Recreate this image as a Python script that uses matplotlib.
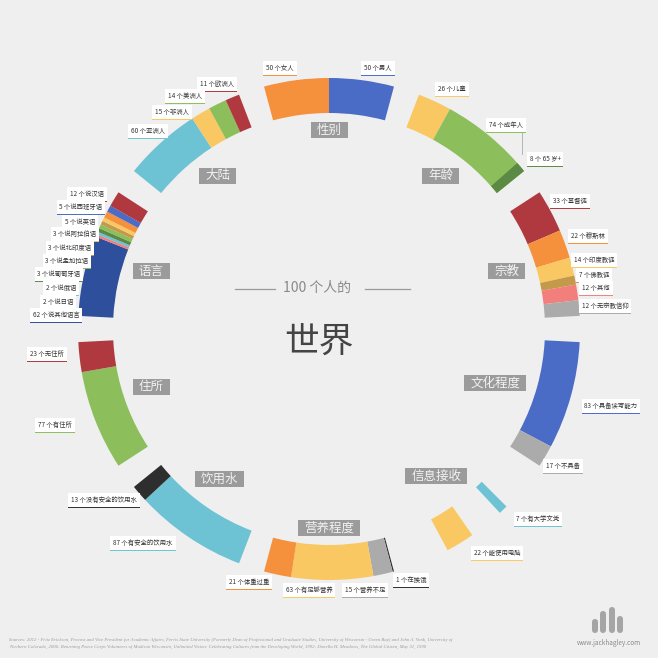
import numpy as np
import matplotlib
matplotlib.use("Agg")
import matplotlib.pyplot as plt
from matplotlib.patches import Wedge, Rectangle, FancyBboxPatch

plt.rcParams['font.family'] = ['Noto Sans CJK SC', 'DejaVu Sans']

# colours
ORANGE = '#f5903d'
BLUE = '#4a6bc6'
YELLOW = '#f9c862'
GREEN = '#8cbf5b'
DKGREEN = '#5b8a45'
RED = '#b0393f'
TAN = '#c39a4a'
PINK = '#f37f7c'
GRAY = '#ababab'
CYAN = '#6dc3d4'
BLACK = '#2e2e2e'
NAVY = '#2e4f9b'

# data, clockwise from the top
categories = ['性别', '年龄', '宗教', '文化程度', '信息接收', '营养程度', '饮用水', '住所', '语言', '大陆']

gender_vals = [50, 50]
gender_labels = ['50 个女人', '50 个男人']
gender_colors = [ORANGE, BLUE]

age_vals = [26, 74, 8]
age_labels = ['26 个儿童', '74 个成年人', '8 个 65 岁+']
age_colors = [YELLOW, GREEN, DKGREEN]

religion_vals = [33, 22, 14, 7, 12, 12]
religion_labels = ['33 个基督徒', '22 个穆斯林', '14 个印度教徒', '7 个佛教徒', '12 个其他', '12 个无宗教信仰']
religion_colors = [RED, ORANGE, YELLOW, TAN, PINK, GRAY]

literacy_vals = [83, 17]
literacy_labels = ['83 个具备读写能力', '17 个不具备']
literacy_colors = [BLUE, GRAY]

info_vals = [7, 22]
info_labels = ['7 个有大学文凭', '22 个能使用电脑']
info_colors = [CYAN, YELLOW]

food_vals = [1, 15, 63, 21]
food_labels = ['1 个在挨饿', '15 个营养不足', '63 个有足够营养', '21 个体重过重']
food_colors = [BLACK, GRAY, YELLOW, ORANGE]

water_vals = [87, 13]
water_labels = ['87 个有安全的饮用水', '13 个没有安全的饮用水']
water_colors = [CYAN, BLACK]

shelter_vals = [77, 23]
shelter_labels = ['77 个有住所', '23 个无住所']
shelter_colors = [GREEN, RED]

language_vals = [62, 2, 2, 3, 3, 3, 3, 5, 5, 12]
language_labels = ['62 个说其他语言', '2 个说日语', '2 个说俄语', '3 个说葡萄牙语', '3 个说孟加拉语',
                   '3 个说北印度语', '3 个说阿拉伯语', '5 个说英语', '5 个说西班牙语', '12 个说汉语']
language_colors = [NAVY, PINK, CYAN, DKGREEN, GREEN, TAN, YELLOW, ORANGE, BLUE, RED]

continent_vals = [60, 15, 14, 11]
continent_labels = ['60 个亚洲人', '15 个非洲人', '14 个美洲人', '11 个欧洲人']
continent_colors = [CYAN, YELLOW, GREEN, RED]

groups = [
    (gender_vals, gender_labels, gender_colors),
    (age_vals, age_labels, age_colors),
    (religion_vals, religion_labels, religion_colors),
    (literacy_vals, literacy_labels, literacy_colors),
    (info_vals, info_labels, info_colors),
    (food_vals, food_labels, food_colors),
    (water_vals, water_labels, water_colors),
    (shelter_vals, shelter_labels, shelter_colors),
    (language_vals, language_labels, language_colors),
    (continent_vals, continent_labels, continent_colors),
]

# layout: where each small label sits (pixels)
label_pos = [
    [(280, 68), (378, 68)],
    [(452, 89), (506, 125), (545, 159)],
    [(570, 201), (588, 236), (594, 260), (594, 275), (596, 288), (605, 306)],
    [(611, 406), (563, 466)],
    [(538, 519), (497, 553)],
    [(411, 580), (365, 590), (309, 590), (249, 582)],
    [(143, 543), (104, 500)],
    [(55, 425), (47, 354)],
    [(56, 315), (58, 302), (61, 288), (59, 274), (67, 261), (70, 248), (75, 234), (80, 222), (81, 207), (87, 194)],
    [(148, 131), (172, 112), (185, 96), (217, 84)],
]

CX, CY = 329, 329
R_OUT, WIDTH = 251, 35
SPAN, GAP = 30.0, 6.0
UNIT = SPAN / 100.0

fig = plt.figure(figsize=(6.58, 6.58), dpi=100)
fig.patch.set_facecolor('#efefef')
ax = fig.add_axes([0, 0, 1, 1])
ax.set_xlim(0, 658)
ax.set_ylim(658, 0)
ax.set_aspect('equal')
ax.axis('off')

small_labels = []
for i, (vals, labs, cols) in enumerate(groups):
    start = -SPAN / 2 + i * (SPAN + GAP)
    offs = list(np.concatenate([[0], np.cumsum(vals)[:-1]]))
    if categories[i] == '年龄':
        offs[2] = 100 - vals[2]          # over-65s are part of the adults
    if categories[i] == '信息接收':
        offs = [20, 54]
    for v, o, c, lab, pos in zip(vals, offs, cols, labs, label_pos[i]):
        a1 = start + o * UNIT
        a2 = start + (o + v) * UNIT
        ax.add_patch(Wedge((CX, CY), R_OUT, a1 - 90, a2 - 90, width=WIDTH,
                           facecolor=c, edgecolor='none', zorder=2))
        t = ax.text(pos[0], pos[1], lab, ha='center', va='center', fontsize=4.6,
                    color='#333333', zorder=6,
                    bbox=dict(boxstyle='square,pad=0.45', fc='white', ec='none'))
        small_labels.append((t, c))

    # category tag
    mid = np.radians(start + SPAN / 2)
    n = len(categories[i])
    w, h = 12.5 * n + 12, 16
    r = 207 - (w / 2) * abs(np.sin(mid)) - (h / 2) * abs(np.cos(mid))
    tx, ty = CX + r * np.sin(mid), CY - r * np.cos(mid)
    ax.add_patch(Rectangle((tx - w / 2, ty - h / 2), w, h, facecolor='#9b9b9b',
                           edgecolor='none', zorder=3))
    ax.text(tx, ty, categories[i], ha='center', va='center', fontsize=9,
            color='#f2f2f2', zorder=4)

# underlines under the small labels
fig.canvas.draw()
inv = ax.transData.inverted()
for t, c in small_labels:
    bb = t.get_bbox_patch().get_window_extent()
    (x0, y0), (x1, y1) = inv.transform(bb.get_points())
    yb = max(y0, y1) + 0.6
    ax.plot([min(x0, x1), max(x0, x1)], [yb, yb], color=c, lw=1.4,
            solid_capstyle='butt', zorder=5)

# connector from adults to over-65s
ax.plot([522, 522, 522], [129, 142, 154], color='#aaaaaa', lw=0.6, zorder=1)

# centre title
ax.text(317, 288, '100 个人的', ha='center', va='center', fontsize=10,
        color='#8a8a8a', fontweight='light')
ax.plot([235, 275], [289, 289], color='#9a9a9a', lw=0.9)
ax.plot([365, 410], [289, 289], color='#9a9a9a', lw=0.9)
ax.text(319, 343, '世界', ha='center', va='center', fontsize=25,
        color='#444444', fontweight='light')

# footer
src1 = ('Sources: 2012 - Fritz Erickson, Provost and Vice President for Academic Affairs, Ferris State University '
        '(Formerly Dean of Professional and Graduate Studies, University of Wisconsin - Green Bay) and John A. Vonk, University of')
src2 = ('Northern Colorado, 2006; Returning Peace Corps Volunteers of Madison Wisconsin, Unlimited Vision: Celebrating '
        'Cultures from the Developing World, 1992; Donella H. Meadows, The Global Citizen, May 31, 1990')
ax.text(9, 640, src1, fontsize=3.45, color='#9a9a9a', style='italic', family='Liberation Serif', va='center')
ax.text(9, 647, src2, fontsize=3.45, color='#9a9a9a', style='italic', family='Liberation Serif', va='center')

for bx, btop in [(592, 619), (600, 611), (609, 607), (617, 616)]:
    ax.add_patch(FancyBboxPatch((bx, btop), 6, 633 - btop, boxstyle='round,pad=0,rounding_size=3',
                                facecolor='#a5a5a5', edgecolor='none'))
ax.text(609, 643, 'www.jackhagley.com', ha='center', va='center', fontsize=4.6, color='#8a8a8a')

fig.savefig('out.png', dpi=100, facecolor=fig.get_facecolor())
